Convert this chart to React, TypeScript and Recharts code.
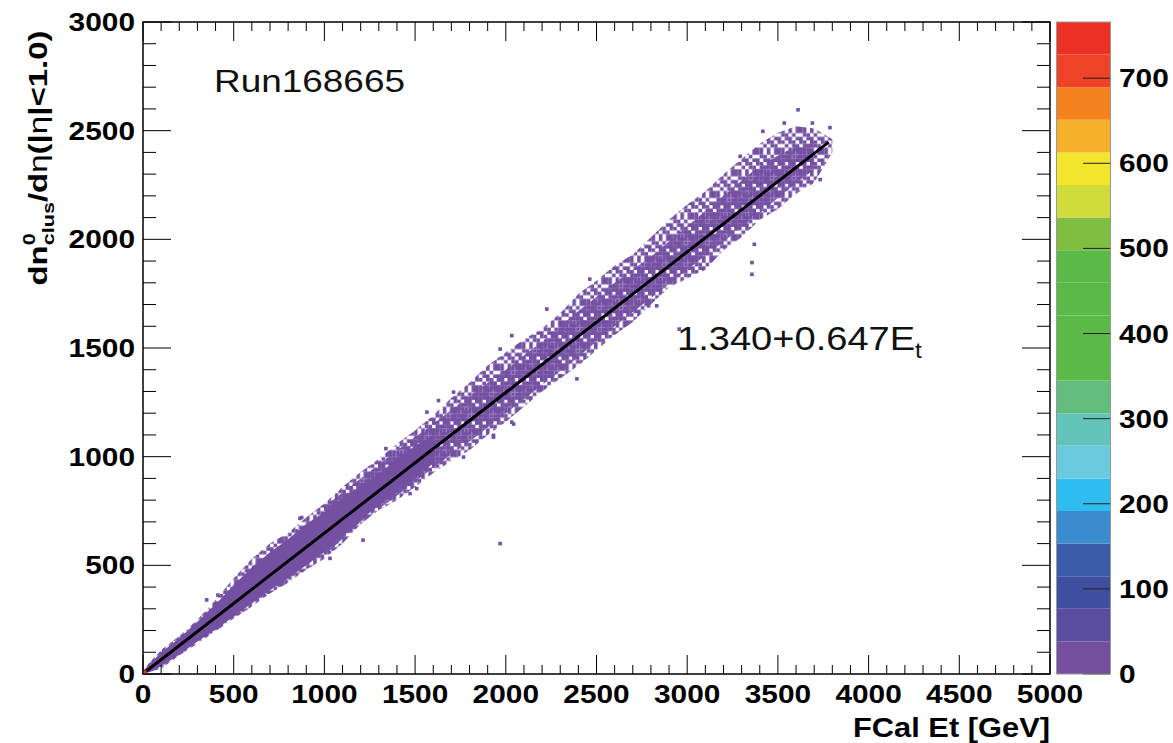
import React from "react";
import {
  ComposedChart,
  Area,
  Line,
  Scatter,
  XAxis,
  YAxis,
  ReferenceArea,
  BarChart,
  Bar,
} from "recharts";

// FCal Et bin centres (GeV) and the edges of the filled band
const bandEt = [0, 100, 200, 300, 400, 500, 600, 700, 800, 900, 1000, 1100, 1200, 1300, 1400, 1500, 1600, 1700, 1800, 1900, 2000, 2100, 2200, 2300, 2400, 2500, 2600, 2700, 2800, 2900, 3000, 3100, 3200, 3300, 3400, 3500, 3600, 3700, 3800];
const outerLow = [0, 25, 85, 140, 195, 255, 310, 370, 420, 480, 530, 600, 690, 755, 800, 860, 925, 980, 1030, 1100, 1160, 1230, 1300, 1360, 1420, 1490, 1560, 1620, 1700, 1780, 1820, 1860, 1950, 2010, 2090, 2140, 2210, 2260, 2400];
const outerHigh = [20, 110, 175, 250, 340, 440, 530, 600, 650, 720, 785, 860, 930, 990, 1060, 1120, 1190, 1270, 1340, 1420, 1480, 1540, 1590, 1660, 1750, 1810, 1880, 1930, 2010, 2090, 2160, 2220, 2300, 2370, 2440, 2490, 2520, 2510, 2460];

const solidEt = [0, 100, 200, 300, 400, 500, 600, 700, 800, 900, 1000, 1100, 1200, 1300, 1400, 1500, 1600];
const solidLow = [0, 35, 90, 150, 205, 265, 325, 385, 440, 500, 560, 630, 710, 775, 840, 900, 970];
const solidHigh = [14, 100, 165, 240, 320, 410, 490, 560, 620, 690, 745, 810, 860, 920, 990, 1050, 1100];

const denseEt = [1000, 1200, 1400, 1600, 1800, 2000, 2200, 2400, 2600, 2800, 3000, 3200, 3400, 3600, 3700];
const denseLow = [545, 700, 820, 950, 1070, 1200, 1330, 1460, 1600, 1730, 1860, 1990, 2120, 2260, 2320];
const denseHigh = [770, 900, 1030, 1150, 1280, 1400, 1530, 1670, 1800, 1920, 2060, 2200, 2340, 2430, 2450];

// isolated bins away from the band
const strayEt = [351, 413, 865, 875, 1031, 1213, 1339, 1472, 1509, 1565, 1629, 1712, 1767, 1932, 1932, 1969, 1969, 2033, 2033, 2043, 2226, 2300, 2392, 2463, 2787, 2832, 2956, 3292, 3357, 3357, 3370, 3417, 3535, 3611, 3690, 3733, 3787];
const strayN = [341, 363, 716, 720, 532, 616, 1037, 830, 853, 1205, 1258, 1297, 998, 1098, 1090, 600, 1495, 1159, 1557, 1150, 1679, 1373, 1358, 1817, 1694, 1694, 1587, 2382, 1893, 1839, 1977, 2497, 2535, 2596, 2535, 2275, 2514];

// fit line 1.340 + 0.647 Et, end points
const fitEt = [0, 3780];
const fitN = [1.3, 2447];

const xMajor = [0, 500, 1000, 1500, 2000, 2500, 3000, 3500, 4000, 4500, 5000];
const yMajor = [0, 500, 1000, 1500, 2000, 2500, 3000];
const zTicks = [0, 100, 200, 300, 400, 500, 600, 700];
const zMax = 766;
const palette = ["#7650a0", "#5a4c9e", "#404ea0", "#3a5ca8", "#3a8cce", "#2ebdee", "#6ac9dd", "#63c4b9", "#63bd7f", "#5ab947", "#5ab947", "#5ab947", "#5ab947", "#80be41", "#d0dc39", "#f2e52c", "#f6af28", "#f3821f", "#ee4326", "#ec3025"];

const PURPLE = "#7450a3";
const TOP = 22;
const BOTTOM = 674;
const LEFT = 143;
const RIGHT = 1050;
const BAR_W = 53;
const FONT = "'Liberation Sans', Arial, Helvetica, sans-serif";

const outerRows = bandEt.map((x, i) => ({ x, v: [outerLow[i], outerHigh[i]] }));
const solidRows = solidEt.map((x, i) => ({ x, v: [solidLow[i], solidHigh[i]] }));
const denseRows = denseEt.map((x, i) => ({ x, v: [denseLow[i], denseHigh[i]] }));
const strayRows = strayEt.map((x, i) => ({ x, y: strayN[i] }));
const fitRows = fitEt.map((x, i) => ({ x, y: fitN[i] }));

const minorTicks = (max: number) => {
  const t: number[] = [];
  for (let v = 0; v <= max; v += 100) t.push(v);
  return t;
};

const label = (v: number) => String(v);

function XTick(props: any) {
  const { x, payload } = props;
  const v = payload.value;
  const major = xMajor.includes(v);
  const len = major ? 19 : 9;
  return (
    <g>
      <line x1={x} x2={x} y1={BOTTOM} y2={BOTTOM - len} stroke="#000" />
      <line x1={x} x2={x} y1={TOP} y2={TOP + len} stroke="#000" />
      {major && (
        <text x={x} y={703} textAnchor="middle" fontFamily={FONT} fontWeight="bold" fontSize={25}
          textLength={label(v).length * 16.6} lengthAdjust="spacingAndGlyphs" fill="#000">
          {label(v)}
        </text>
      )}
    </g>
  );
}

function YTick(props: any) {
  const { y, payload } = props;
  const v = payload.value;
  const major = yMajor.includes(v);
  const len = major ? 28 : 13;
  return (
    <g>
      <line x1={LEFT} x2={LEFT + len} y1={y} y2={y} stroke="#000" />
      <line x1={RIGHT} x2={RIGHT - len} y1={y} y2={y} stroke="#000" />
      {major && (
        <text x={135} y={y + 9} textAnchor="end" fontFamily={FONT} fontWeight="bold" fontSize={25}
          textLength={label(v).length * 16.6} lengthAdjust="spacingAndGlyphs" fill="#000">
          {label(v)}
        </text>
      )}
    </g>
  );
}

// colour bar ticks, in the colour bar's own svg coordinates
function ZTick(props: any) {
  const { y, payload } = props;
  return (
    <g>
      <line x1={BAR_W} x2={BAR_W - 27} y1={y} y2={y} stroke="#222" />
      <text x={BAR_W + 9} y={y + 9} textAnchor="start" fontFamily={FONT} fontWeight="bold" fontSize={25}
        textLength={label(payload.value).length * 16.6} lengthAdjust="spacingAndGlyphs" fill="#000">
        {label(payload.value)}
      </text>
    </g>
  );
}

const squareShape = (color: string) => (p: any) => (
  <rect x={p.cx - 1.8} y={p.cy - 1.8} width={3.6} height={3.6} fill={color} />
);

const sparseCells = [
  [0, 0], [1, 0], [3, 0], [5, 0],
  [1, 1], [2, 1], [4, 1],
  [0, 2], [2, 2], [3, 2], [5, 2],
  [0, 3], [1, 3], [3, 3], [4, 3],
  [2, 4], [4, 4], [5, 4],
  [0, 5], [1, 5], [3, 5], [5, 5],
];
const denseHoles = ["1,0", "4,1", "2,3", "5,3", "0,4", "3,5", "5,0"];
const denseCells: number[][] = [];
for (let r = 0; r < 6; r++) for (let c = 0; c < 6; c++) if (!denseHoles.includes(c + "," + r)) denseCells.push([c, r]);

const zRow = [{ id: "z", ...Object.fromEntries(palette.map((_, i) => ["l" + i, zMax / palette.length])) }];

export default function App() {
  return (
    <div style={{ position: "absolute", left: 0, top: 0, width: 1173, height: 743, background: "#fff" }}>
      <div style={{ position: "absolute", left: 0, top: 0 }}>
        <ComposedChart width={1173} height={743} margin={{ top: 22, right: 123, bottom: 29, left: 83 }}>
          <defs>
            <pattern id="sparse" width={21.6} height={21.6} patternUnits="userSpaceOnUse">
              {sparseCells.map(([c, r], i) => (
                <rect key={i} x={c * 3.6} y={r * 3.6} width={3.6} height={3.6} fill={PURPLE} />
              ))}
            </pattern>
            <pattern id="dense" width={21.6} height={21.6} patternUnits="userSpaceOnUse">
              {denseCells.map(([c, r], i) => (
                <rect key={i} x={c * 3.6} y={r * 3.6} width={3.6} height={3.6} fill={PURPLE} />
              ))}
            </pattern>
          </defs>
          <XAxis type="number" dataKey="x" domain={[0, 5000]} ticks={minorTicks(5000)} interval={0}
            tick={<XTick />} tickLine={false} axisLine={false} tickSize={0} height={40} allowDataOverflow />
          <YAxis type="number" domain={[0, 3000]} ticks={minorTicks(3000)} interval={0}
            tick={<YTick />} tickLine={false} axisLine={false} tickSize={0} width={60} allowDataOverflow />
          <Area data={outerRows} dataKey="v" type="linear" stroke="none" fill="url(#sparse)" fillOpacity={1} isAnimationActive={false} />
          <Area data={denseRows} dataKey="v" type="linear" stroke="none" fill="url(#dense)" fillOpacity={1} isAnimationActive={false} />
          <Area data={solidRows} dataKey="v" type="linear" stroke="none" fill={PURPLE} fillOpacity={1} isAnimationActive={false} />
          <Scatter data={strayRows} dataKey="y" shape={squareShape(PURPLE)} isAnimationActive={false} />
          <Scatter data={[{ x: 10, y: 8 }]} dataKey="y" shape={squareShape("#e8352a")} isAnimationActive={false} />
          <Line data={fitRows} dataKey="y" type="linear" stroke="#000" strokeWidth={3} dot={false} isAnimationActive={false} />
          <ReferenceArea x1={0} x2={5000} y1={0} y2={3000} fill="none" stroke="#000" strokeWidth={1.5} />
        </ComposedChart>
      </div>
      <div style={{ position: "absolute", left: 1057, top: 0 }}>
        <BarChart width={116} height={743} data={zRow} margin={{ top: 22, right: 13, bottom: 69, left: 0 }}
          barCategoryGap={0} barGap={0}>
          <XAxis dataKey="id" type="category" hide />
          <YAxis orientation="right" type="number" domain={[0, zMax]} ticks={zTicks} interval={0}
            tick={<ZTick />} tickLine={false} axisLine={false} tickSize={0} width={50} allowDataOverflow />
          {palette.map((c, i) => (
            <Bar key={i} dataKey={"l" + i} stackId="z" fill={c} isAnimationActive={false} />
          ))}
        </BarChart>
      </div>
      <svg width={1173} height={743} style={{ position: "absolute", left: 0, top: 0, pointerEvents: "none" }}>
        <rect x={1056.5} y={22} width={54} height={652} fill="none" stroke="#999" strokeWidth={1} />
        <text x={214} y={92} fontFamily={FONT} fontSize={31} textLength={191} lengthAdjust="spacingAndGlyphs" fill="#111">
          Run168665
        </text>
        <g transform="translate(677,350) scale(1.12,1)">
          <text x={0} y={0} fontFamily={FONT} fontSize={34} fill="#111">
            1.340+0.647E<tspan fontSize={22} dy={8}>t</tspan>
          </text>
        </g>
        <text x={1050} y={737} textAnchor="end" fontFamily={FONT} fontWeight="bold" fontSize={28}
          textLength={197} lengthAdjust="spacingAndGlyphs" fill="#000">
          FCal Et [GeV]
        </text>
        <g transform="translate(47,158) rotate(-90) scale(1.27,1)">
          <text x={0} y={0} textAnchor="middle" fontFamily={FONT} fontWeight="bold" fontSize={26} fill="#000">
            dn<tspan fontSize={17} dy={-12}>0</tspan>
            <tspan fontSize={17} dx={-9.5} dy={19}>clus</tspan>
            <tspan dy={-7}>/d</tspan>
            <tspan fontWeight="normal">η</tspan>
            <tspan>(|</tspan>
            <tspan fontWeight="normal">η</tspan>
            <tspan>|&lt;1.0)</tspan>
          </text>
        </g>
      </svg>
    </div>
  );
}
